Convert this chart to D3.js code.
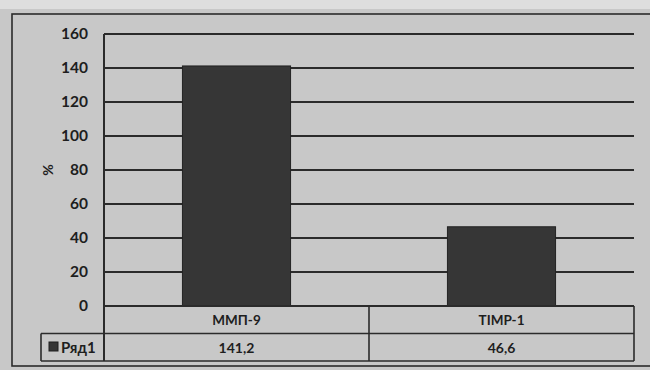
<!DOCTYPE html>
<html>
<head>
<meta charset="utf-8">
<script src="https://cdn.jsdelivr.net/npm/d3@7"></script>
<style>
  html, body { margin: 0; padding: 0; background: #c7c7c7; }
  svg { display: block; }
  text { font-family: Lato, "Open Sans", "DejaVu Sans", sans-serif; font-weight: bold; fill: #1e1e1e; }
</style>
</head>
<body>
<svg id="chart" width="650" height="370"></svg>
<script>
// Chart data
const categories = ["ММП-9", "TIMP-1"];
const values = [141.2, 46.6];
const valueLabels = ["141,2", "46,6"];
const seriesName = "Ряд1";
const yTicks = [0, 20, 40, 60, 80, 100, 120, 140, 160];

const svg = d3.select("#chart");
const W = 650, H = 370;
const plot = { left: 104, right: 634, top: 34, bottom: 306 };
const rowH = 27.5;
const ink = "#2b2b2b";

// Page background and outer frame
svg.append("rect").attr("width", W).attr("height", H).attr("fill", "#c8c8c8");
svg.append("rect").attr("width", W).attr("height", 9).attr("fill", "#dedede");
svg.append("rect")
  .attr("x", 12).attr("y", 14).attr("width", W + 20).attr("height", 352)
  .attr("fill", "none").attr("stroke", ink).attr("stroke-width", 1.6);

// Scales
const y = d3.scaleLinear().domain([0, 160]).range([plot.bottom, plot.top]);
const x = d3.scaleBand().domain(categories).range([plot.left, plot.right])
  .paddingInner(0.592).paddingOuter(0.296);
const cols = d3.scaleBand().domain(categories).range([plot.left, plot.right]);

// Horizontal gridlines
svg.append("g").selectAll("line").data(yTicks.filter(d => d > 0)).join("line")
  .attr("x1", plot.left).attr("x2", plot.right)
  .attr("y1", d => y(d)).attr("y2", d => y(d))
  .attr("stroke", ink).attr("stroke-width", 2);

// Y axis labels
const yAxis = d3.axisLeft(y).tickValues(yTicks).tickSize(0).tickPadding(16);
const ya = svg.append("g").attr("transform", `translate(${plot.left},0)`).call(yAxis);
ya.select(".domain").remove();
ya.selectAll("text").attr("font-size", 15.5).attr("font-family", null).attr("fill", "#1e1e1e")
  .style("font-family", "Lato, 'Open Sans', sans-serif").style("font-weight", "bold");

// Axis title
svg.append("text")
  .attr("transform", `translate(47,${y(80)}) rotate(-90)`)
  .attr("text-anchor", "middle").attr("dominant-baseline", "central")
  .attr("font-size", 14).text("%");

// Bars
svg.append("g").selectAll("rect").data(values).join("rect")
  .attr("x", (d, i) => x(categories[i]))
  .attr("y", d => y(d))
  .attr("width", x.bandwidth())
  .attr("height", d => y(0) - y(d))
  .attr("fill", "#363636").attr("stroke", "#222").attr("stroke-width", 1);

// Data table
const t = svg.append("g").attr("stroke", ink).attr("stroke-width", 1.6).attr("fill", "none");
const r1 = plot.bottom, r2 = plot.bottom + rowH, r3 = plot.bottom + 2 * rowH;
t.append("line").attr("x1", plot.left).attr("x2", plot.right).attr("y1", r1).attr("y2", r1).attr("stroke-width", 2);
t.append("line").attr("x1", 41).attr("x2", plot.right).attr("y1", r2).attr("y2", r2);
t.append("line").attr("x1", 41).attr("x2", plot.right).attr("y1", r3).attr("y2", r3);
t.append("line").attr("x1", 41).attr("x2", 41).attr("y1", r2).attr("y2", r3);
t.append("line").attr("x1", plot.left).attr("x2", plot.left).attr("y1", plot.top).attr("y2", r3).attr("stroke-width", 2);
t.selectAll("line.col").data(categories).join("line").attr("class", "col")
  .attr("x1", d => cols(d) + cols.bandwidth()).attr("x2", d => cols(d) + cols.bandwidth())
  .attr("y1", r1).attr("y2", r3);

// Category and value rows
svg.append("g").selectAll("text").data(categories).join("text")
  .attr("x", d => cols(d) + cols.bandwidth() / 2).attr("y", (r1 + r2) / 2)
  .attr("text-anchor", "middle").attr("dominant-baseline", "central")
  .attr("font-size", 13.5).text(d => d);
svg.append("g").selectAll("text").data(valueLabels).join("text")
  .attr("x", (d, i) => cols(categories[i]) + cols.bandwidth() / 2).attr("y", (r2 + r3) / 2)
  .attr("text-anchor", "middle").attr("dominant-baseline", "central")
  .attr("font-size", 14).text(d => d);

// Legend key in the table
svg.append("rect").attr("x", 49).attr("y", 342).attr("width", 9).attr("height", 9)
  .attr("fill", "#363636").attr("stroke", "#1e1e1e").attr("stroke-width", 1);
svg.append("text").attr("x", 61).attr("y", (r2 + r3) / 2)
  .attr("dominant-baseline", "central").attr("font-size", 15).text(seriesName);
</script>
</body>
</html>
